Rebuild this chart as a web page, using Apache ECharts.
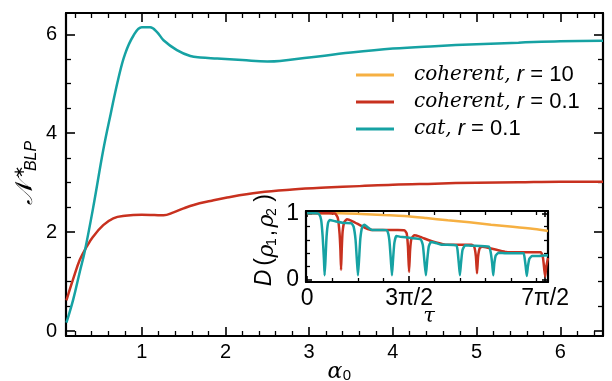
<!DOCTYPE html>
<html>
<head>
<meta charset="utf-8">
<script src="https://cdn.jsdelivr.net/npm/echarts@6/dist/echarts.min.js"></script>
<style>
html, body { margin: 0; padding: 0; background: #fff; }
#chart { width: 612px; height: 381px; }
</style>
</head>
<body>
<div id="chart"></div>
<script>
// main panel: N*_BLP against alpha_0
const catAlpha = [0.1, 0.18, 0.26, 0.32, 0.42, 0.54, 0.63, 0.72, 0.8, 0.9, 1.0, 1.1, 1.18, 1.26, 1.42, 1.58, 1.7, 1.9, 2.2, 2.5, 2.65, 3.0, 3.5, 4.0, 4.5, 5.0, 5.5, 6.0, 6.51];
const catN = [0.17, 0.63, 1.2, 1.62, 2.5, 3.66, 4.4, 5.1, 5.6, 5.97, 6.14, 6.14, 6.05, 5.88, 5.68, 5.56, 5.53, 5.51, 5.48, 5.45, 5.46, 5.53, 5.63, 5.71, 5.76, 5.8, 5.83, 5.86, 5.87];
const cohAlpha = [0.1, 0.18, 0.26, 0.34, 0.42, 0.54, 0.66, 0.8, 1.0, 1.15, 1.26, 1.38, 1.5, 1.62, 1.82, 2.02, 2.4, 2.8, 3.2, 3.6, 4.0, 4.5, 5.0, 5.5, 6.0, 6.51];
const cohN = [0.62, 1.05, 1.44, 1.7, 1.91, 2.14, 2.28, 2.33, 2.35, 2.345, 2.34, 2.4, 2.48, 2.55, 2.63, 2.7, 2.8, 2.86, 2.9, 2.93, 2.96, 2.98, 3.0, 3.01, 3.02, 3.02];

// inset: D(rho1, rho2) against tau
const tauCoh10 = [0, 1.5, 2.5, 3.5, 4.5, 5.5, 6.5, 7.5, 8.5, 9.5, 10.5, 11.13];
const dCoh10 = [1.0, 1.0, 0.99, 0.975, 0.96, 0.93, 0.895, 0.865, 0.83, 0.8, 0.765, 0.735];
const tauCoh01 = [0, 1.0, 1.3, 1.42, 1.5, 1.54, 1.57, 1.6, 1.64, 1.72, 1.85, 2.1, 2.4, 2.7, 3.0, 4.2, 4.5, 4.6, 4.66, 4.71, 4.76, 4.82, 4.95, 5.2, 5.6, 6.0, 6.4, 7.6, 7.72, 7.8, 7.85, 7.9, 7.98, 8.1, 8.4, 8.8, 9.2, 9.6, 10.8, 10.9, 10.96, 11.0, 11.05, 11.13];
const dCoh01 = [1.0, 1.0, 0.995, 0.93, 0.7, 0.45, 0.15, 0.45, 0.72, 0.87, 0.91, 0.88, 0.83, 0.78, 0.75, 0.75, 0.745, 0.7, 0.5, 0.12, 0.45, 0.62, 0.67, 0.65, 0.6, 0.56, 0.53, 0.53, 0.5, 0.35, 0.1, 0.35, 0.48, 0.5, 0.48, 0.45, 0.42, 0.415, 0.415, 0.33, 0.15, 0.05, 0.2, 0.33];
const tauCat = [0, 0.4, 0.55, 0.65, 0.72, 0.78, 0.81, 0.85, 0.9, 0.97, 1.05, 1.3, 1.7, 2.05, 2.15, 2.24, 2.3, 2.35, 2.4, 2.46, 2.55, 2.65, 2.8, 3.0, 3.5, 3.7, 3.8, 3.87, 3.92, 3.97, 4.03, 4.12, 4.3, 4.8, 5.25, 5.35, 5.43, 5.49, 5.55, 5.62, 5.72, 5.9, 6.2, 6.9, 6.95, 7.01, 7.06, 7.11, 7.18, 7.3, 7.6, 8.4, 8.48, 8.55, 8.6, 8.65, 8.72, 8.85, 9.2, 10.0, 10.05, 10.1, 10.15, 10.2, 10.27, 10.4, 10.7, 11.13];
const dCat = [1.0, 1.0, 0.99, 0.9, 0.65, 0.3, 0.07, 0.3, 0.65, 0.86, 0.9, 0.88, 0.855, 0.85, 0.8, 0.6, 0.3, 0.07, 0.3, 0.62, 0.8, 0.83, 0.79, 0.75, 0.75, 0.74, 0.6, 0.3, 0.07, 0.3, 0.55, 0.66, 0.65, 0.63, 0.61, 0.52, 0.25, 0.07, 0.3, 0.5, 0.57, 0.56, 0.53, 0.52, 0.45, 0.25, 0.07, 0.25, 0.45, 0.52, 0.515, 0.5, 0.42, 0.25, 0.07, 0.25, 0.37, 0.41, 0.4, 0.4, 0.33, 0.2, 0.06, 0.2, 0.32, 0.36, 0.36, 0.37];

// ticks
const alphaMajor = [1, 2, 3, 4, 5, 6];
const alphaMinor = [0.2, 0.4, 0.6, 0.8, 1.2, 1.4, 1.6, 1.8, 2.2, 2.4, 2.6, 2.8, 3.2, 3.4, 3.6, 3.8, 4.2, 4.4, 4.6, 4.8, 5.2, 5.4, 5.6, 5.8, 6.2, 6.4];
const nMajor = [0, 2, 4, 6];
const nMinor = [0.5, 1, 1.5, 2.5, 3, 3.5, 4.5, 5, 5.5];
const tauMajor = [0, 4.712, 10.996];
const tauLabels = ['0', '3π/2', '7π/2'];
const tauMinor = [1.178, 2.356, 3.534, 5.890, 7.069, 8.247, 9.425, 10.603];
const dMajor = [0, 1];
const dMinor = [0.2, 0.4, 0.6, 0.8];

const names = ['coherent, r = 10', 'coherent, r = 0.1', 'cat, r = 0.1'];
const colors = ['#f6b042', '#c8311f', '#16a2a3'];

const zip = (xs, ys) => xs.map((x, i) => [x, ys[i]]);
const black = '#000';
const sans = 'Liberation Sans';

// one grid gets 4 axes per direction: labelled/major, minor, mirrored major, mirrored minor
function axes(grid, pos, mirror, min, max, major, minor, majLen, minLen, label) {
  const base = { gridIndex: grid, type: 'value', min: min, max: max, splitLine: { show: false } };
  const line = { onZero: false, lineStyle: { color: black, width: 2.2 } };
  const out = [];
  [pos, mirror].forEach((p, k) => {
    out.push(Object.assign({}, base, {
      position: p,
      axisLine: line,
      axisTick: { inside: true, length: majLen, customValues: major, lineStyle: { color: black, width: 1.6 } },
      axisLabel: k === 0 ? Object.assign({ customValues: major, color: black, fontFamily: sans }, label) : { show: false }
    }));
    out.push(Object.assign({}, base, {
      position: p,
      axisLine: { show: false, onZero: false },
      axisTick: { inside: true, length: minLen, customValues: minor, lineStyle: { color: black, width: 1.3 } },
      axisLabel: { show: false }
    }));
  });
  return out;
}

const xAxis = axes(0, 'bottom', 'top', 0.095, 6.51, alphaMajor, alphaMinor, 9, 5, { fontSize: 20, margin: 6 })
  .concat(axes(1, 'bottom', 'top', -0.05, 11.13, tauMajor, tauMinor, 6, 4, {
    fontSize: 23, margin: 5,
    formatter: v => {
      let best = 0;
      tauMajor.forEach((t, i) => { if (Math.abs(t - v) < Math.abs(tauMajor[best] - v)) best = i; });
      return tauLabels[best];
    }
  }));
const yAxis = axes(0, 'left', 'right', -0.1, 6.43, nMajor, nMinor, 9, 5, { fontSize: 20, margin: 9 })
  .concat(axes(1, 'left', 'right', -0.03, 1.035, dMajor, dMinor, 6, 4, { fontSize: 23, margin: 7 }));

function line(name, data, color, xi, yi, smooth) {
  return {
    name: name, type: 'line', data: data, xAxisIndex: xi, yAxisIndex: yi,
    showSymbol: false, symbol: 'none', smooth: smooth, color: color,
    lineStyle: { color: color, width: 2.5 }
  };
}

// rotated / composed labels built from pieces [text, font, x, y]
function label(x, y, rot, pieces) {
  return {
    type: 'group', x: x, y: y, rotation: rot,
    children: pieces.map(p => ({
      type: 'text', x: p[2], y: p[3],
      style: { text: p[0], font: p[1], fill: black, align: 'center', verticalAlign: 'middle' }
    }))
  };
}

const chart = echarts.init(document.getElementById('chart'));
chart.setOption({
  animation: false,
  backgroundColor: '#fff',
  grid: [
    { left: 66, top: 13, width: 537, height: 323, containLabel: false },
    { left: 306, top: 211, width: 242, height: 71, show: true, backgroundColor: '#fff', borderWidth: 0, containLabel: false }
  ],
  xAxis: xAxis,
  yAxis: yAxis,
  legend: {
    data: names,
    orient: 'vertical', left: 351, top: 59,
    itemWidth: 38, itemHeight: 3, itemGap: 5, icon: 'rect',
    formatter: name => {
      const parts = name.split(', r');
      return '{it|' + parts[0] + ',} {ri|r}' + parts[1];
    },
    textStyle: {
      fontFamily: sans, fontSize: 22, color: black, lineHeight: 22, padding: [0, 0, 0, 15],
      rich: {
        it: { fontFamily: 'DejaVu Serif', fontStyle: 'italic', fontSize: 20, lineHeight: 22 },
        ri: { fontFamily: sans, fontStyle: 'italic', fontSize: 22, lineHeight: 22 }
      }
    }
  },
  series: [
    line(names[1], zip(cohAlpha, cohN), colors[1], 0, 0, 0.4),
    line(names[2], zip(catAlpha, catN), colors[2], 0, 0, 0.4),
    line(names[0], zip(tauCoh10, dCoh10), colors[0], 4, 4, 0.3),
    line(names[1], zip(tauCoh01, dCoh01), colors[1], 4, 4, 0.15),
    line(names[2], zip(tauCat, dCat), colors[2], 4, 4, 0.15)
  ],
  graphic: [
    label(26, 193, Math.PI / 2, [
      ['𝒩', 'italic 24px "DejaVu Serif"', 0, 0],
      ['∗', '15px "DejaVu Sans"', 21, -6],
      ['BLP', 'italic 16px "Liberation Sans"', 37, 6]
    ]),
    label(335, 372, 0, [
      ['α', 'italic 22px "DejaVu Serif"', 0, 0],
      ['0', '15px "Liberation Sans"', 12, 4]
    ]),
    label(265, 278, Math.PI / 2, [
      ['D', 'italic 23px "Liberation Sans"', 0, 0],
      ['(', '23px "Liberation Sans"', 16, 0],
      ['ρ', 'italic 22px "DejaVu Serif"', 27, 2],
      ['1', '14px "Liberation Sans"', 36, 7],
      [',', '23px "Liberation Sans"', 45, 3],
      ['ρ', 'italic 22px "DejaVu Serif"', 57, 2],
      ['2', '14px "Liberation Sans"', 66, 7],
      [')', '23px "Liberation Sans"', 80, 0]
    ]),
    label(429, 317, 0, [
      ['τ', 'italic 21px "DejaVu Serif"', 0, 0]
    ])
  ]
});
</script>
</body>
</html>
